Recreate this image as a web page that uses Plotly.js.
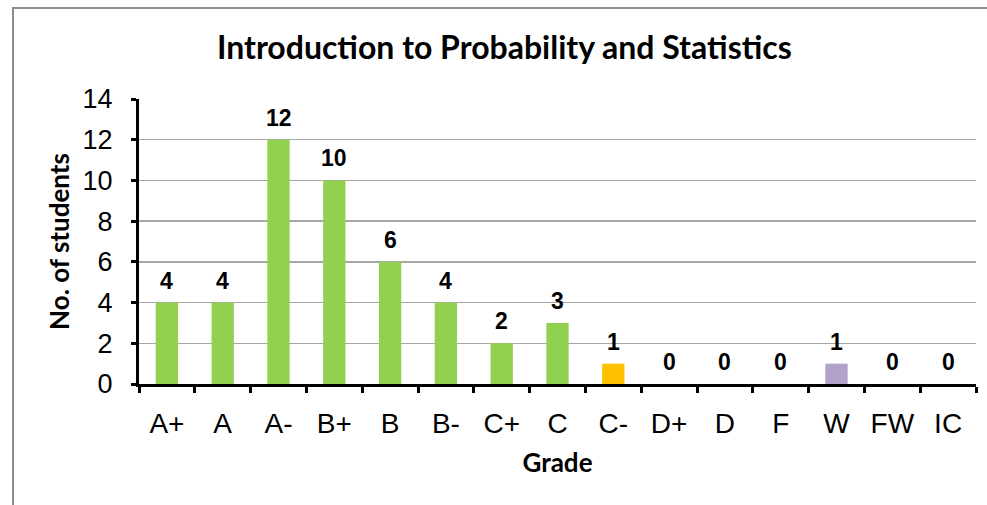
<!DOCTYPE html>
<html>
<head>
<meta charset="utf-8">
<script src="https://cdn.plot.ly/plotly-3.0.1.min.js"></script>
<style>
  html, body { margin: 0; padding: 0; background: #fff; }
  #wrap { position: relative; width: 987px; height: 505px; overflow: hidden; }
  #chart { position: absolute; left: 0; top: 0; width: 987px; height: 505px; }
  #frame { position: absolute; left: 12px; top: 7px; width: 1000px; height: 600px;
           border-left: 2px solid #8c8c8c; border-top: 2px solid #8c8c8c; pointer-events: none; }
</style>
</head>
<body>
<div id="wrap">
  <div id="chart"></div>
  <div id="frame"></div>
</div>
<script>
const grades = ["A+", "A", "A-", "B+", "B", "B-", "C+", "C", "C-", "D+", "D", "F", "W", "FW", "IC"];
const students = [4, 4, 12, 10, 6, 4, 2, 3, 1, 0, 0, 0, 1, 0, 0];
const barColors = ["#92D050", "#92D050", "#92D050", "#92D050", "#92D050", "#92D050", "#92D050", "#92D050",
                   "#FFC000", "#92D050", "#92D050", "#92D050", "#B3A2C7", "#92D050", "#92D050"];
const yTicks = [0, 2, 4, 6, 8, 10, 12, 14];

const trace = {
  type: "bar",
  x: grades,
  y: students,
  marker: { color: barColors },
  hoverinfo: "skip"
};

const annotations = grades.map((g, i) => ({
  x: g, y: students[i], xref: "x", yref: "y",
  text: "<b>" + String(students[i]) + "</b>", showarrow: false,
  yanchor: "bottom", yshift: 7,
  font: { family: "Liberation Sans, Arial, sans-serif", size: 23, color: "#000" }
}));

const layout = {
  width: 987, height: 505,
  margin: { l: 139, r: 11, t: 99, b: 121, pad: 0 },
  paper_bgcolor: "rgba(0,0,0,0)",
  plot_bgcolor: "#fff",
  bargap: 0.6,
  showlegend: false,
  title: {
    text: "<b>Introduction to Probability and Statistics</b>",
    font: { family: "Lato, Calibri, sans-serif", size: 32, color: "#000" },
    x: 0.511, xanchor: "center", y: 0.905, yanchor: "middle"
  },
  xaxis: {
    type: "category",
    tickson: "boundaries",
    ticks: "outside", ticklen: 6, tickwidth: 3, tickcolor: "#000",
    ticklabelstandoff: 12,
    showline: true, linecolor: "#000", linewidth: 3,
    showgrid: false,
    tickfont: { family: "Liberation Sans, Arial, sans-serif", size: 28, color: "#000" },
    title: { text: "<b>Grade</b>", font: { family: "Lato, Calibri, sans-serif", size: 26, color: "#000" }, standoff: 17 }
  },
  yaxis: {
    range: [0, 14],
    tickvals: yTicks,
    ticktext: yTicks.map(String),
    ticks: "outside", ticklen: 5, tickwidth: 3, tickcolor: "#000",
    ticklabelstandoff: 13,
    showline: true, linecolor: "#000", linewidth: 3,
    showgrid: true, gridcolor: "#a6a6a6", gridwidth: 1.5,
    zeroline: false,
    tickfont: { family: "Liberation Sans, Arial, sans-serif", size: 27, color: "#000" },
    title: { text: "<b>No. of students</b>", font: { family: "Lato, Calibri, sans-serif", size: 26, color: "#000" }, standoff: 6 }
  },
  annotations: annotations
};

Plotly.newPlot("chart", [trace], layout, { staticPlot: true, displayModeBar: false });
</script>
</body>
</html>
